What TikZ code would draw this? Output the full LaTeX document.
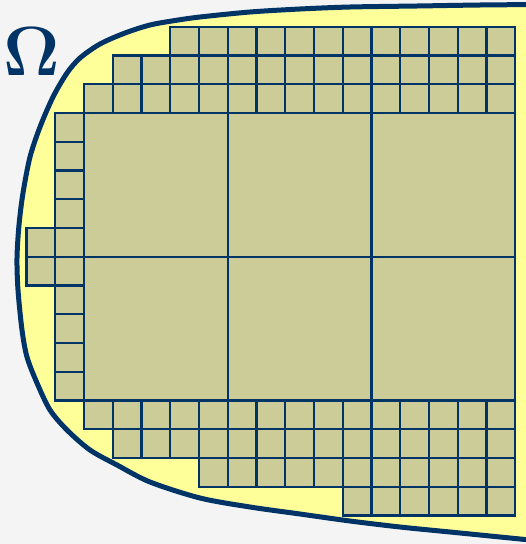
\documentclass[tikz,border=0pt]{standalone}
\usepackage{amsmath}
\definecolor{navy}{HTML}{003366}
\definecolor{paleyellow}{HTML}{FFFF99}
\definecolor{olive}{HTML}{CCCC99}
\definecolor{backgray}{HTML}{F4F4F4}
\tikzset{cell/.style={fill=olive,draw=navy,line width=2.2pt}}
\def\boundary{(540,4.5) (480,5) (417,6) (350,7) (300,9) (250,12) (200,17) (175,20.5) (150,25) (125,33) (100,44) (80,58) (67,73) (53,97) (40,127) (30,157) (23,193) (19,225) (17,258) (18,290) (22,330) (27,357) (37,383) (50,410) (67,430) (90,450) (117,465) (150,482) (200,498) (250,507) (300,514) (350,521) (400,527) (450,532) (500,537) (540,541)}

\begin{document}
\begin{tikzpicture}[x=1pt,y=-1pt]
\useasboundingbox (0,0) rectangle (526,544);
\fill[backgray] (0,0) rectangle (526,544);
\clip (0,0) rectangle (526,544);
% domain Omega
\fill[paleyellow] plot[smooth] coordinates {\boundary} -- cycle;
% cells
\begin{scope}[shift={(84,113)},x=28.75pt,y=-28.75pt]
\foreach \r/\a in {-3/3,-2/1,-1/0,10/0,11/1,12/4,13/9}
  \foreach \c in {\a,...,14} \draw[cell] (\c,\r) rectangle ++(1,1);
\foreach \r in {0,...,9} \draw[cell] (-1,\r) rectangle ++(1,1);
\foreach \r in {4,5} \draw[cell] (-2,\r) rectangle ++(1,1);
\foreach \c in {0,5,10} \foreach \r in {0,5} \draw[cell] (\c,\r) rectangle ++(5,5);
\end{scope}
\draw[navy,line width=5pt] plot[smooth] coordinates {\boundary};
\node[navy,inner sep=0pt,scale=2.8] (omega) at (32,52) {\Huge$\mathbf{\Omega}$};
\end{tikzpicture}
\end{document}
